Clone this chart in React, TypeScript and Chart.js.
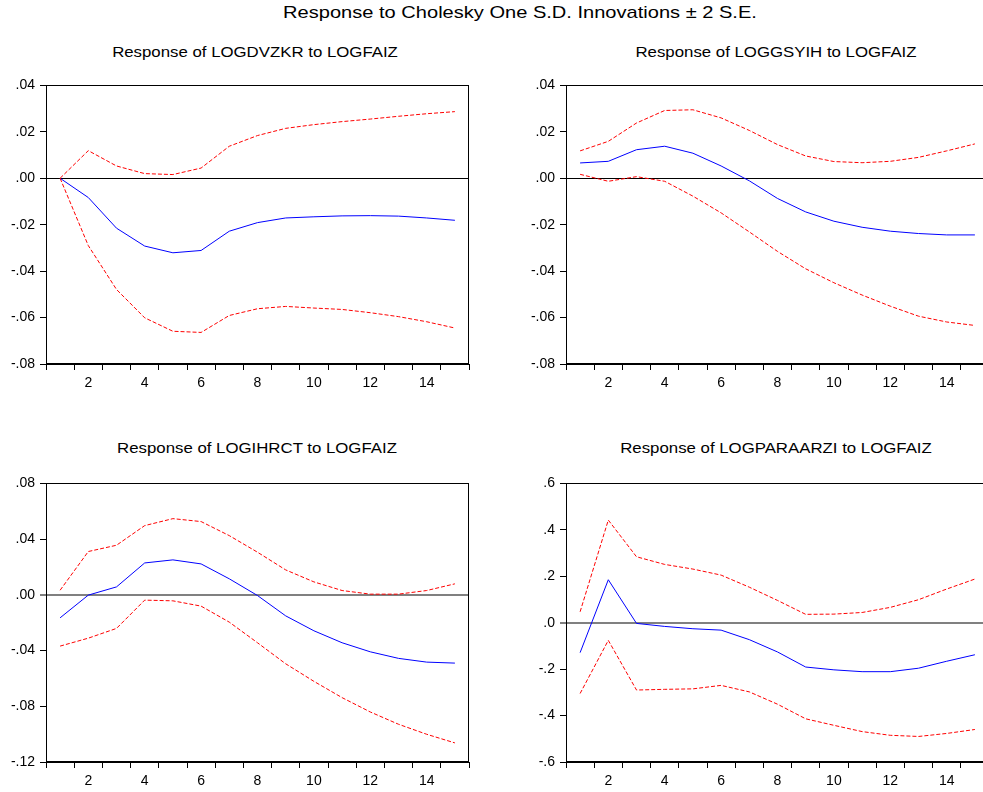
import React, { useEffect, useRef } from 'react';
import { Chart, registerables } from 'chart.js';

Chart.register(...registerables);

// ---------- data ----------
const periods = ['1', '2', '3', '4', '5', '6', '7', '8', '9', '10', '11', '12', '13', '14', '15'];

const dvzkrResponse = [0, -0.0083, -0.0215, -0.0292, -0.0321, -0.0311, -0.0228, -0.0191, -0.0171, -0.0166, -0.0162, -0.0161, -0.0163, -0.0171, -0.0181];
const dvzkrUpper = [0, 0.0119, 0.0053, 0.002, 0.0016, 0.0044, 0.0138, 0.0184, 0.0215, 0.0231, 0.0244, 0.0255, 0.0267, 0.0278, 0.0287];
const dvzkrLower = [0, -0.029, -0.0479, -0.0601, -0.0659, -0.0664, -0.0591, -0.0562, -0.0552, -0.0559, -0.0565, -0.0579, -0.0596, -0.0618, -0.0645];

const gsyihResponse = [0.0066, 0.0073, 0.0123, 0.0138, 0.0108, 0.0053, -0.0011, -0.0087, -0.0145, -0.0185, -0.0211, -0.0228, -0.0238, -0.0244, -0.0244];
const gsyihUpper = [0.0118, 0.0159, 0.0238, 0.0292, 0.0295, 0.026, 0.0206, 0.0145, 0.0096, 0.0072, 0.0067, 0.0073, 0.009, 0.0118, 0.0148];
const gsyihLower = [0.0017, -0.0013, 0.0007, -0.0013, -0.0077, -0.0149, -0.0231, -0.0315, -0.039, -0.045, -0.0503, -0.0551, -0.0594, -0.0619, -0.0634];

const ihrctResponse = [-0.0165, -0.0002, 0.0057, 0.0229, 0.0251, 0.0222, 0.0115, -0.0005, -0.0151, -0.0258, -0.0344, -0.0409, -0.0456, -0.0483, -0.049];
const ihrctUpper = [0.0033, 0.0311, 0.0356, 0.0497, 0.0547, 0.0526, 0.0425, 0.0306, 0.0179, 0.0093, 0.0031, 0.0005, 0.0005, 0.0031, 0.0079];
const ihrctLower = [-0.0368, -0.0311, -0.0241, -0.0038, -0.0043, -0.0081, -0.0196, -0.0344, -0.0495, -0.0621, -0.0738, -0.0841, -0.0929, -0.1001, -0.1063];

const paraarziResponse = [-0.129, 0.185, -0.003, -0.016, -0.026, -0.032, -0.073, -0.126, -0.191, -0.203, -0.211, -0.211, -0.196, -0.166, -0.138];
const paraarziUpper = [0.047, 0.442, 0.284, 0.251, 0.231, 0.205, 0.153, 0.096, 0.036, 0.037, 0.044, 0.066, 0.099, 0.145, 0.188];
const paraarziLower = [-0.305, -0.076, -0.29, -0.287, -0.285, -0.27, -0.298, -0.351, -0.414, -0.442, -0.469, -0.485, -0.49, -0.477, -0.46];

const mainTitle = 'Response to Cholesky One S.D. Innovations \u00B1 2 S.E.';
const panelTitles = [
  'Response of LOGDVZKR to LOGFAIZ',
  'Response of LOGGSYIH to LOGFAIZ',
  'Response of LOGIHRCT to LOGFAIZ',
  'Response of LOGPARAARZI to LOGFAIZ',
];

// ---------- helpers ----------
const FONT = '"Liberation Sans", Arial, Helvetica, sans-serif';

function fmtTick(v: number, decimals: number): string {
  if (Math.abs(v) < 1e-9) return '.' + '0'.repeat(decimals);
  const s = Math.abs(v).toFixed(decimals).replace(/^0/, '');
  return (v < 0 ? '-' : '') + s;
}

const boxPlugin = {
  id: 'boxFrame',
  afterDraw(chart: any) {
    const { ctx, chartArea: a } = chart;
    ctx.save();
    ctx.strokeStyle = '#000';
    ctx.lineWidth = 1;
    const l = Math.round(a.left) + 0.5;
    const t = Math.round(a.top) + 0.5;
    const r = Math.round(a.right) - 0.5;
    const b = Math.round(a.bottom) - 0.5;
    ctx.strokeRect(l, t, r - l, b - t);
    ctx.restore();
  },
};

type PanelProps = {
  left: number;
  top: number;
  response: number[];
  upper: number[];
  lower: number[];
  yMin: number;
  yMax: number;
  yStep: number;
  decimals: number;
  zeroColor: string;
  zeroWidth: number;
};

const CANVAS_W = 480;
const CANVAS_H = 318;

function Panel(p: PanelProps) {
  const ref = useRef<HTMLCanvasElement>(null);
  useEffect(() => {
    if (!ref.current) return;
    const tickFont = { family: FONT, size: 14 };
    const chart = new Chart(ref.current, {
      type: 'line',
      data: {
        labels: periods,
        datasets: [
          {
            data: p.upper,
            borderColor: '#FF0000',
            borderWidth: 1,
            borderDash: [4, 2],
            pointRadius: 0,
            tension: 0,
            fill: false,
          },
          {
            data: p.lower,
            borderColor: '#FF0000',
            borderWidth: 1,
            borderDash: [4, 2],
            pointRadius: 0,
            tension: 0,
            fill: false,
          },
          {
            data: p.response,
            borderColor: '#0000FF',
            borderWidth: 1,
            pointRadius: 0,
            tension: 0,
            fill: false,
          },
        ],
      },
      options: {
        responsive: false,
        animation: false,
        devicePixelRatio: 1,
        layout: { padding: { top: 5, right: 11, bottom: 0, left: 0 } },
        plugins: {
          legend: { display: false },
          title: { display: false },
          tooltip: { enabled: false },
        },
        scales: {
          x: {
            type: 'category',
            offset: true,
            grid: {
              offset: true,
              drawOnChartArea: false,
              drawTicks: true,
              tickLength: 6,
              color: '#000',
              tickColor: '#000',
              tickWidth: 1,
            },
            border: { display: true, color: '#000', width: 1 },
            ticks: {
              autoSkip: false,
              maxRotation: 0,
              minRotation: 0,
              padding: 5,
              color: '#000',
              font: tickFont,
              callback: (_v: any, i: number) => ((i + 1) % 2 === 0 ? periods[i] : ''),
            },
            afterFit: (s: any) => {
              s.height = 26;
            },
          },
          y: {
            type: 'linear',
            min: p.yMin,
            max: p.yMax,
            grid: {
              drawOnChartArea: true,
              drawTicks: true,
              tickLength: 6,
              tickColor: '#000',
              tickWidth: 1,
              color: (c: any) => (c.tick && Math.abs(c.tick.value) < 1e-9 ? p.zeroColor : 'rgba(0,0,0,0)'),
              lineWidth: (c: any) => (c.tick && Math.abs(c.tick.value) < 1e-9 ? p.zeroWidth : 1),
            },
            border: { display: true, color: '#000', width: 1 },
            ticks: {
              stepSize: p.yStep,
              padding: 5,
              color: '#000',
              font: tickFont,
              callback: (v: any) => fmtTick(Number(v), p.decimals),
            },
            afterFit: (s: any) => {
              s.width = 46;
            },
          },
        },
      },
      plugins: [boxPlugin],
    } as any);
    return () => chart.destroy();
  }, []);
  return (
    <canvas
      ref={ref}
      width={CANVAS_W}
      height={CANVAS_H}
      style={{ position: 'absolute', left: p.left, top: p.top, width: CANVAS_W, height: CANVAS_H }}
    />
  );
}

function Title({ text, cx, cy, size, sx }: { text: string; cx: number; cy: number; size: number; sx: number }) {
  return (
    <div
      style={{
        position: 'absolute',
        left: cx,
        top: cy,
        transform: `translate(-50%, -50%) scaleX(${sx})`,
        whiteSpace: 'nowrap',
        fontFamily: FONT,
        fontSize: size,
        lineHeight: 1,
        color: '#000',
      }}
    >
      {text}
    </div>
  );
}

export default function App() {
  return (
    <div
      style={{
        position: 'fixed',
        left: 0,
        top: 0,
        width: 983,
        height: 792,
        overflow: 'hidden',
        background: '#fff',
      }}
    >
      <Title text={mainTitle} cx={520} cy={12} size={17} sx={1.18} />
      <Title text={panelTitles[0]} cx={255} cy={51} size={15} sx={1.12} />
      <Title text={panelTitles[1]} cx={776} cy={51} size={15} sx={1.12} />
      <Title text={panelTitles[2]} cx={257} cy={447} size={15} sx={1.12} />
      <Title text={panelTitles[3]} cx={776} cy={447} size={15} sx={1.12} />
      <Panel left={0} top={72} response={dvzkrResponse} upper={dvzkrUpper} lower={dvzkrLower}
        yMin={-0.08} yMax={0.04} yStep={0.02} decimals={2} zeroColor="#000" zeroWidth={1} />
      <Panel left={520} top={72} response={gsyihResponse} upper={gsyihUpper} lower={gsyihLower}
        yMin={-0.08} yMax={0.04} yStep={0.02} decimals={2} zeroColor="#000" zeroWidth={1} />
      <Panel left={0} top={470} response={ihrctResponse} upper={ihrctUpper} lower={ihrctLower}
        yMin={-0.12} yMax={0.08} yStep={0.04} decimals={2} zeroColor="#808080" zeroWidth={2} />
      <Panel left={520} top={470} response={paraarziResponse} upper={paraarziUpper} lower={paraarziLower}
        yMin={-0.6} yMax={0.6} yStep={0.2} decimals={1} zeroColor="#808080" zeroWidth={2} />
    </div>
  );
}
